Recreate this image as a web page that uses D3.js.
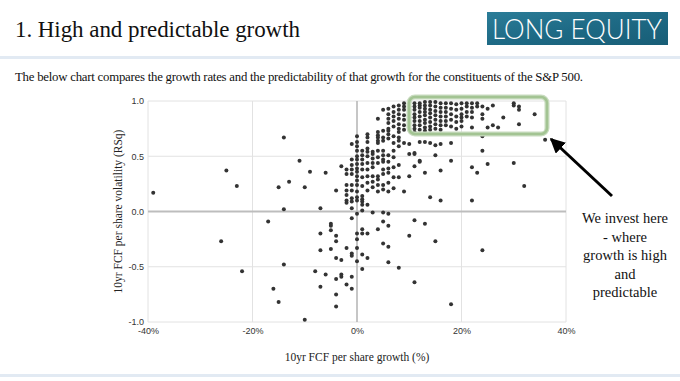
<!DOCTYPE html>
<html>
<head>
<meta charset="utf-8">
<script src="https://cdn.jsdelivr.net/npm/d3@7"></script>
<style>
  body { margin: 0; background: #fff; }
  svg { display: block; }
</style>
</head>
<body>
<script>
// tick values
var xTicks = [-40, -20, 0, 20, 40];
var yTicks = [-1, -0.5, 0, 0.5, 1];
var noteLines = ["We invest here", "- where", "growth is high", "and", "predictable"];

// [growth %, [RSq values at that growth]]
var pointsByGrowth = [
    [-39, [0.17]],
    [-26, [-0.27]],
    [-25, [0.37]],
    [-23, [0.23]],
    [-22, [-0.54]],
    [-17, [-0.09]],
    [-16, [-0.70]],
    [-15, [0.22, -0.82]],
    [-14, [0.67, 0.02, -0.48]],
    [-13, [0.27]],
    [-11, [0.46]],
    [-10, [0.22, -0.98]],
    [-9, [0.36]],
    [-8, [-0.54]],
    [-7, [0.03, -0.20, -0.35, -0.68]],
    [-6, [0.35, -0.57]],
    [-5, [-0.11, -0.13, -0.17, -0.34]],
    [-4, [0.19, -0.22, -0.27, -0.42, -0.61, -0.75, -0.86]],
    [-3, [0.41, -0.44, -0.57, -0.59]],
    [-2, [0.38, 0.34, 0.24, 0.19, 0.15, 0.10, 0.08, -0.33, -0.66]],
    [-1, [0.61, 0.47, 0.42, 0.38, 0.34, 0.24, 0.19, 0.12, 0.09, 0.03, -0.06, -0.38, -0.40, -0.59, -0.70]],
    [0, [0.68, 0.63, 0.59, 0.55, 0.50, 0.47, 0.43, 0.39, 0.36, 0.32, 0.28, 0.24, 0.18, 0.13, 0.10, -0.02, -0.20, -0.25, -0.33, -0.45]],
    [1, [0.55, 0.51, 0.47, 0.43, 0.38, 0.31, 0.23, 0.14, 0.11, 0.09, 0.06, 0.01, -0.16, -0.20, -0.39, -0.52]],
    [2, [0.70, 0.67, 0.63, 0.57, 0.54, 0.50, 0.44, 0.38, 0.32, 0.26, 0.19, 0.06, -0.20, -0.42]],
    [3, [0.54, 0.52, 0.48, 0.44, 0.40, 0.32, 0.27, 0.22, -0.01]],
    [4, [0.84, 0.72, 0.69, 0.67, 0.64, 0.62, 0.55, 0.49, 0.44, 0.32, 0.29, 0.24, 0.18, -0.16]],
    [5, [0.92, 0.73, 0.67, 0.64, 0.55, 0.51, 0.47, 0.45, 0.38, 0.34, 0.24, 0.20, -0.01, -0.09, -0.29]],
    [6, [0.93, 0.88, 0.84, 0.80, 0.75, 0.73, 0.70, 0.66, 0.51, 0.45, 0.39, 0.35, 0.26, 0.18, -0.02, -0.13, -0.32, -0.46]],
    [7, [0.95, 0.90, 0.86, 0.82, 0.77, 0.68, 0.62, 0.55, 0.49, 0.40, 0.31, 0.21]],
    [8, [0.96, 0.92, 0.88, 0.84, 0.79, 0.75, 0.72, 0.67, 0.64, 0.59, 0.42, 0.31, -0.51]],
    [9, [0.98, 0.95, 0.92, 0.87, 0.83, 0.78, 0.74, 0.62, 0.18]],
    [10, [0.99, 0.95, 0.92, 0.90, 0.85, 0.80, 0.75, 0.61, 0.52, 0.32, -0.22]],
    [11, [0.98, 0.95, 0.92, 0.88, 0.85, 0.82, 0.78, 0.75, 0.72, 0.53, 0.52, 0.41, -0.08, -0.64]],
    [12, [0.98, 0.96, 0.94, 0.90, 0.86, 0.82, 0.78, 0.74, 0.63, 0.46, 0.45]],
    [13, [0.99, 0.96, 0.93, 0.90, 0.87, 0.83, 0.80, 0.76, 0.73, 0.63, 0.35, -0.11]],
    [14, [0.99, 0.96, 0.92, 0.89, 0.85, 0.81, 0.77, 0.74, 0.62, 0.13]],
    [15, [0.99, 0.95, 0.91, 0.87, 0.83, 0.79, 0.75, 0.60, 0.51, -0.27]],
    [16, [0.98, 0.94, 0.90, 0.86, 0.82, 0.78, 0.74, 0.61, 0.37, 0.10]],
    [17, [0.98, 0.94, 0.90, 0.86, 0.82, 0.78]],
    [18, [0.98, 0.93, 0.88, 0.83, 0.77, 0.62, 0.46, -0.84]],
    [19, [0.97, 0.92, 0.86, 0.81, 0.75]],
    [20, [0.98, 0.93, 0.88, 0.85, 0.82, 0.77]],
    [21, [0.98, 0.95, 0.90, 0.86]],
    [22, [0.98, 0.94, 0.90, 0.85, 0.76, 0.40, 0.10]],
    [23, [0.98, 0.95, 0.35]],
    [24, [0.95, 0.88, 0.84, 0.68, 0.55, -0.35]],
    [25, [0.93, 0.76, 0.43]],
    [26, [0.96, 0.78]],
    [27, [0.76]],
    [28, [0.85]],
    [30, [0.98, 0.96, 0.44]],
    [31, [0.95, 0.92, 0.79]],
    [32, [0.23]],
    [34, [0.88]],
    [36, [0.65]]
];

var svgWidth = 680;
var svgHeight = 381;

var svg = d3.select("body")
            .append("svg")
            .attr("width", svgWidth)
            .attr("height", svgHeight);

var serif = "'Liberation Serif', 'Times New Roman', serif";
var sans = "'Liberation Sans', Arial, sans-serif";

// header
svg.append("text")
   .attr("x", 15)
   .attr("y", 37)
   .attr("font-family", serif)
   .attr("font-size", 23)
   .attr("fill", "#111")
   .attr("textLength", 285)
   .text("1. High and predictable growth");

var defs = svg.append("defs");
var grad = defs.append("linearGradient")
               .attr("id", "logoGrad")
               .attr("x1", "0").attr("y1", "0").attr("x2", "1").attr("y2", "1");
grad.append("stop").attr("offset", "0%").attr("stop-color", "#2b7d98");
grad.append("stop").attr("offset", "50%").attr("stop-color", "#1e6a85");
grad.append("stop").attr("offset", "100%").attr("stop-color", "#185d76");

svg.append("rect")
   .attr("x", 487).attr("y", 12)
   .attr("width", 181).attr("height", 33)
   .attr("fill", "url(#logoGrad)");

svg.append("text")
   .attr("x", 577)
   .attr("y", 39)
   .attr("text-anchor", "middle")
   .attr("font-family", "Lato, 'Open Sans', sans-serif")
   .attr("font-weight", 300)
   .attr("font-size", 27)
   .attr("fill", "#fff")
   .attr("textLength", 170)
   .attr("lengthAdjust", "spacingAndGlyphs")
   .text("LONG EQUITY");

svg.append("rect")
   .attr("x", 0).attr("y", 56)
   .attr("width", svgWidth).attr("height", 3)
   .attr("fill", "#e2eaf3");

svg.append("rect")
   .attr("x", 0).attr("y", 374)
   .attr("width", svgWidth).attr("height", 3)
   .attr("fill", "#e2eaf3");

svg.append("text")
   .attr("x", 15)
   .attr("y", 81)
   .attr("font-family", serif)
   .attr("font-size", 12.8)
   .attr("fill", "#111")
   .attr("textLength", 568)
   .text("The below chart compares the growth rates and the predictability of  that growth for the constituents of  the S&P 500.");

// chart
var xScale = d3.scaleLinear().domain([-40, 40]).range([148, 566]);
var yScale = d3.scaleLinear().domain([-1, 1]).range([322, 101]);

var chartGroup = svg.append("g");

chartGroup.append("g")
          .selectAll("line")
          .data(xTicks.filter(d => d !== 0))
          .enter()
          .append("line")
          .attr("x1", d => xScale(d)).attr("x2", d => xScale(d))
          .attr("y1", yScale(-1)).attr("y2", yScale(1))
          .attr("stroke", "#e2e2e2")
          .attr("stroke-width", 1);

chartGroup.append("g")
          .selectAll("line")
          .data(yTicks.filter(d => d !== 0))
          .enter()
          .append("line")
          .attr("x1", xScale(-40)).attr("x2", xScale(40))
          .attr("y1", d => yScale(d)).attr("y2", d => yScale(d))
          .attr("stroke", "#e2e2e2")
          .attr("stroke-width", 1);

chartGroup.append("line")
          .attr("x1", xScale(0)).attr("x2", xScale(0))
          .attr("y1", yScale(-1)).attr("y2", yScale(1))
          .attr("stroke", "#b8b8b8")
          .attr("stroke-width", 1.6);

chartGroup.append("line")
          .attr("x1", xScale(-40)).attr("x2", xScale(40))
          .attr("y1", yScale(0)).attr("y2", yScale(0))
          .attr("stroke", "#bdbdbd")
          .attr("stroke-width", 2);

var leftAxis = d3.axisLeft(yScale)
                 .tickValues(yTicks)
                 .tickSize(0)
                 .tickPadding(4)
                 .tickFormat(d => d.toFixed(1));

var bottomAxis = d3.axisBottom(xScale)
                   .tickValues(xTicks)
                   .tickSize(0)
                   .tickPadding(6)
                   .tickFormat(d => d + "%");

var yAxis = chartGroup.append("g")
                      .attr("transform", `translate(${xScale(-40)}, 0)`)
                      .call(leftAxis);
var xAxis = chartGroup.append("g")
                      .attr("transform", `translate(0, ${yScale(-1)})`)
                      .call(bottomAxis);

[xAxis, yAxis].forEach(ax => {
    ax.select(".domain").remove();
    ax.selectAll("text")
      .attr("font-family", sans)
      .attr("font-size", 9)
      .attr("fill", "#333");
});

var points = [];
pointsByGrowth.forEach(col => {
    col[1].forEach(v => points.push({ growth: col[0], rsq: v }));
});

chartGroup.append("g")
          .selectAll("circle")
          .data(points)
          .enter()
          .append("circle")
          .attr("cx", d => xScale(d.growth))
          .attr("cy", d => yScale(d.rsq))
          .attr("r", 2)
          .attr("fill", "#333");

// axis titles
svg.append("text")
   .attr("transform", `translate(122, ${yScale(0)}) rotate(-90)`)
   .attr("text-anchor", "middle")
   .attr("font-family", serif)
   .attr("font-size", 11.5)
   .attr("fill", "#222")
   .text("10yr FCF per share volatility (RSq)");

svg.append("text")
   .attr("x", xScale(0))
   .attr("y", 361)
   .attr("text-anchor", "middle")
   .attr("font-family", serif)
   .attr("font-size", 11.5)
   .attr("fill", "#222")
   .text("10yr FCF per share growth (%)");

// highlight box
svg.append("rect")
   .attr("x", 409).attr("y", 97)
   .attr("width", 138).attr("height", 37)
   .attr("rx", 6)
   .attr("fill", "none")
   .attr("stroke", "#c9dcc0")
   .attr("stroke-width", 5);
svg.append("rect")
   .attr("x", 409).attr("y", 97)
   .attr("width", 138).attr("height", 37)
   .attr("rx", 6)
   .attr("fill", "none")
   .attr("stroke", "#a3c493")
   .attr("stroke-width", 2.5);

// arrow
defs.append("marker")
    .attr("id", "arrowHead")
    .attr("viewBox", "0 0 10 10")
    .attr("refX", 9).attr("refY", 5)
    .attr("markerWidth", 5).attr("markerHeight", 5)
    .attr("markerUnits", "strokeWidth")
    .attr("orient", "auto")
    .append("path")
    .attr("d", "M0,0 L10,5 L0,10 Z")
    .attr("fill", "#000");

svg.append("line")
   .attr("x1", 612).attr("y1", 196)
   .attr("x2", 551).attr("y2", 139)
   .attr("stroke", "#000")
   .attr("stroke-width", 3)
   .attr("marker-end", "url(#arrowHead)");

svg.append("g")
   .selectAll("text")
   .data(noteLines)
   .enter()
   .append("text")
   .attr("x", 625)
   .attr("y", (d, i) => 223 + i * 18.5)
   .attr("text-anchor", "middle")
   .attr("font-family", serif)
   .attr("font-size", 14.5)
   .attr("fill", "#111")
   .text(d => d);
</script>
</body>
</html>
